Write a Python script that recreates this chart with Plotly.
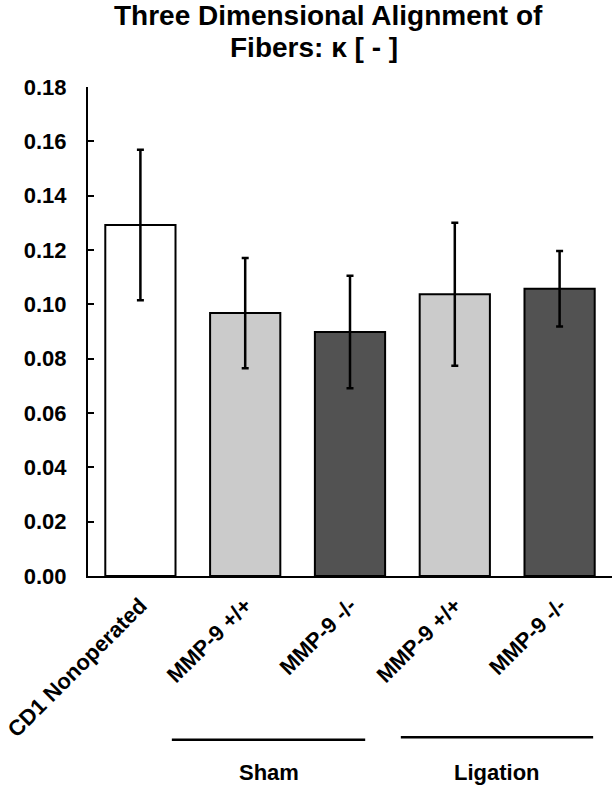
import plotly.graph_objects as go

categories = ["CD1 Nonoperated", "MMP-9 +/+", "MMP-9 -/-", "MMP-9 +/+", "MMP-9 -/-"]
means = [0.1292, 0.0968, 0.0898, 0.1037, 0.1057]
errors = [0.0277, 0.0203, 0.0207, 0.0263, 0.0139]
bar_colors = ["#ffffff", "#cbcbcb", "#525252", "#cbcbcb", "#525252"]
groups = ["Sham", "Ligation"]
y_ticks = [0.00, 0.02, 0.04, 0.06, 0.08, 0.10, 0.12, 0.14, 0.16, 0.18]
title_lines = ["Three Dimensional Alignment of", "Fibers: κ [ - ]"]

FONT = "Liberation Sans, Arial, sans-serif"
xpos = list(range(len(categories)))

fig = go.Figure()
fig.add_trace(go.Bar(
    x=xpos, y=means, width=0.67,
    marker=dict(color=bar_colors, line=dict(color="black", width=2)),
    error_y=dict(type="data", array=errors, visible=True,
                 color="black", thickness=2.5, width=3.5),
    showlegend=False, hoverinfo="skip",
))

fig.update_layout(
    width=613, height=786,
    margin=dict(l=88, r=1, t=87, b=210, pad=0),
    paper_bgcolor="white", plot_bgcolor="white",
    font=dict(family=FONT, color="black"),
)

# two-line title placed as annotations
fig.add_annotation(xref="paper", yref="paper", x=0.872, y=1.1465,
                   text="<b>%s</b>" % title_lines[0], showarrow=False,
                   xanchor="right", yanchor="middle",
                   font=dict(size=28, family=FONT, color="black"))
fig.add_annotation(xref="paper", yref="paper", x=0.431, y=1.0815,
                   text="<b>%s</b>" % title_lines[1], showarrow=False,
                   xanchor="center", yanchor="middle",
                   font=dict(size=28, family=FONT, color="black"))

fig.update_xaxes(
    range=[-0.5, 4.5], showline=True, linewidth=2, linecolor="black",
    showgrid=False, zeroline=False, ticks="",
    tickvals=xpos, ticktext=["<b>%s</b>" % c for c in categories],
    tickangle=-45, tickfont=dict(size=22, family=FONT, color="black"),
    ticklabelstandoff=6,
)
fig.update_yaxes(
    range=[0, 0.18], showline=True, linewidth=2, linecolor="black",
    showgrid=False, zeroline=False, ticks="inside", ticklen=6, tickwidth=2,
    tickcolor="black", tickvals=y_ticks,
    ticktext=["<b>%.2f</b>" % v for v in y_ticks],
    tickfont=dict(size=22, family=FONT, color="black"),
    ticklabelstandoff=15,
)

# group brackets beneath the category labels
spans = [(0.160, 0.529, -0.335), (0.597, 0.964, -0.3297)]
for name, (x0, x1, yy) in zip(groups, spans):
    fig.add_shape(type="line", xref="paper", yref="paper",
                  x0=x0, x1=x1, y0=yy, y1=yy,
                  line=dict(color="black", width=2.5))
    fig.add_annotation(xref="paper", yref="paper", x=(x0 + x1) / 2, y=-0.401,
                       text="<b>%s</b>" % name, showarrow=False,
                       xanchor="center", yanchor="middle",
                       font=dict(size=22, family=FONT, color="black"))

fig.write_html("out.html", config={"displayModeBar": False},
               post_script="document.body.style.margin='0px';document.body.style.padding='0px';")
